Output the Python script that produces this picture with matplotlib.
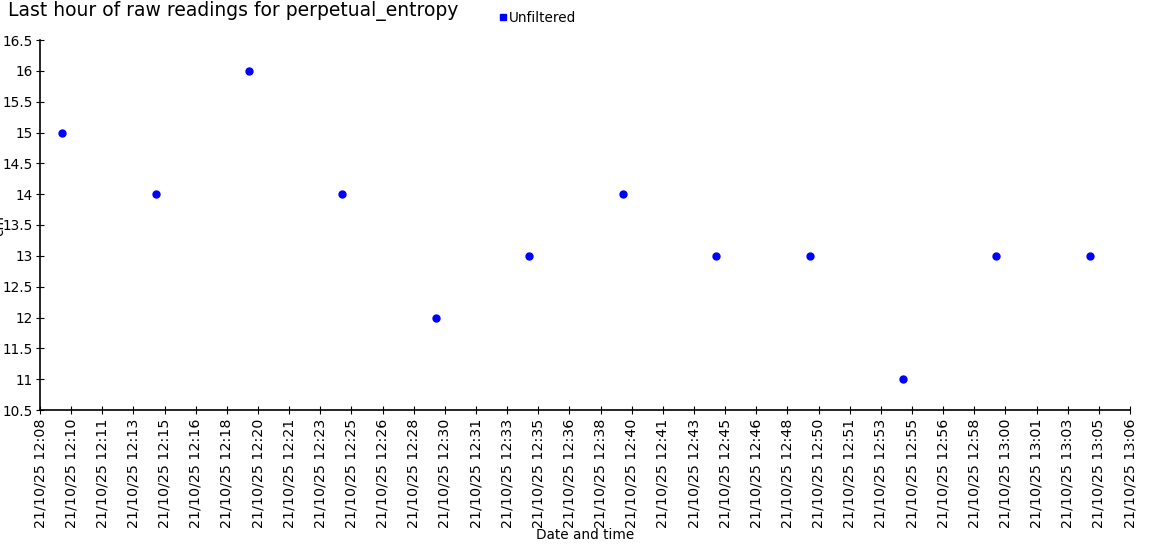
import datetime as dt

import matplotlib
matplotlib.use("Agg")
import matplotlib.pyplot as plt
import matplotlib.dates as mdates
from matplotlib.lines import Line2D

# readings every 5 minutes
START = dt.datetime(2025, 10, 21, 12, 9, 36)
values = [15, 14, 16, 14, 12, 13, 14, 13, 13, 11, 13, 13]
times = [START + dt.timedelta(minutes=5 * i) for i in range(len(values))]

# axis ticks every 100 seconds
TICK0 = dt.datetime(2025, 10, 21, 12, 8, 25)
ticks = [TICK0 + dt.timedelta(seconds=100 * i) for i in range(36)]
yticks = [10.5 + 0.5 * i for i in range(13)]

plt.rcParams["font.family"] = ["DejaVu Sans"]

fig = plt.figure(figsize=(11.5, 5.6), dpi=100)
ax = fig.add_axes([40 / 1150, 1 - 410 / 560, 1090 / 1150, 370 / 560])

ax.plot(times, values, linestyle="none", marker="o", markersize=5,
        color="#0000ff")

ax.set_xlim(ticks[0], ticks[-1])
ax.set_ylim(10.5, 16.5)
ax.set_xticks(ticks)
ax.xaxis.set_major_formatter(mdates.DateFormatter("%d/%m/%y %H:%M"))
ax.set_yticks(yticks)
ax.set_yticklabels([f"{v:g}" for v in yticks])
ax.tick_params(axis="x", labelrotation=90, labelsize=10.3, direction="inout",
               length=6, width=0.8, pad=3)
ax.tick_params(axis="y", labelsize=9.8, direction="inout", length=6,
               width=0.8, pad=2)
for side in ("top", "right"):
    ax.spines[side].set_visible(False)
for side in ("left", "bottom"):
    ax.spines[side].set_linewidth(1.2)

ax.set_xlabel("Date and time", fontsize=9.8, labelpad=0)

# y label sits mostly off the left edge, as in the original
fig.text(6 / 1150, 1 - 225 / 560, "cm", rotation=90, fontsize=9.8,
         ha="right", va="center")

fig.text(8 / 1150, 1 - 11 / 560, "Last hour of raw readings for perpetual_entropy",
         fontsize=13.5, va="center", ha="left")
handle = Line2D([], [], linestyle="none", marker="s", markersize=4.5,
                color="#0000ff")
fig.legend([handle], ["Unfiltered"], loc="center",
           bbox_to_anchor=(538 / 1150, 1 - 18 / 560),
           frameon=False, fontsize=9.8, handlelength=0.4,
           handletextpad=0.25, borderpad=0)

fig.savefig("out.png", dpi=100)
